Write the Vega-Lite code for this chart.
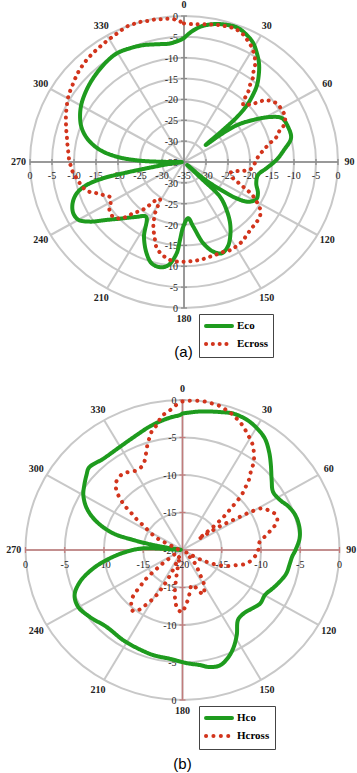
{
"$schema":"https://vega.github.io/schema/vega-lite/v6.json",
"padding":0,"spacing":0,"bounds":"flush","background":"white",
"config":{"view":{"stroke":null},"text":{"font":"Liberation Serif"},
"legend":{"strokeColor":"#444","fillColor":"white","padding":5,"labelFont":"Liberation Serif","labelFontSize":11,"labelFontWeight":"bold","labelColor":"black","symbolType":"M-1,0L4.2,0","symbolSize":100,"symbolStrokeWidth":4,"rowPadding":2,"labelOffset":19,"cornerRadius":0}},
"resolve":{"scale":{"color":"independent","strokeDash":"independent","size":"independent","x":"independent","y":"independent"},"legend":{"color":"independent","strokeDash":"independent"}},
"datasets":{
"sp":[{"a":0},{"a":30},{"a":60},{"a":90},{"a":120},{"a":150},{"a":180},{"a":210},{"a":240},{"a":270},{"a":300},{"a":330}],
"tA":[{"db":-35,"d":"u"},{"db":-30,"d":"u"},{"db":-25,"d":"u"},{"db":-20,"d":"u"},{"db":-15,"d":"u"},{"db":-10,"d":"u"},{"db":-5,"d":"u"},{"db":0,"d":"u"},
{"db":-30,"d":"d"},{"db":-25,"d":"d"},{"db":-20,"d":"d"},{"db":-15,"d":"d"},{"db":-10,"d":"d"},{"db":-5,"d":"d"},{"db":0,"d":"d"},
{"db":-35,"d":"l"},{"db":-30,"d":"l"},{"db":-25,"d":"l"},{"db":-20,"d":"l"},{"db":-15,"d":"l"},{"db":-10,"d":"l"},{"db":-5,"d":"l"},{"db":0,"d":"l"},
{"db":-30,"d":"r"},{"db":-25,"d":"r"},{"db":-20,"d":"r"},{"db":-15,"d":"r"},{"db":-10,"d":"r"},{"db":-5,"d":"r"},{"db":0,"d":"r"}],
"tB":[{"db":-20,"d":"u"},{"db":-15,"d":"u"},{"db":-10,"d":"u"},{"db":-5,"d":"u"},{"db":0,"d":"u"},
{"db":-15,"d":"d"},{"db":-10,"d":"d"},{"db":-5,"d":"d"},{"db":0,"d":"d"},
{"db":-20,"d":"l"},{"db":-15,"d":"l"},{"db":-10,"d":"l"},{"db":-5,"d":"l"},{"db":0,"d":"l"},
{"db":-15,"d":"r"},{"db":-10,"d":"r"},{"db":-5,"d":"r"},{"db":0,"d":"r"}],
"A":[
{"s":"Eco","a":0,"db":-5.3},{"s":"Eco","a":2.5,"db":-4.0},{"s":"Eco","a":6.4,"db":-2.4},{"s":"Eco","a":11.3,"db":-1.3},{"s":"Eco","a":16.6,"db":-0.7},{"s":"Eco","a":20.9,"db":-0.6},{"s":"Eco","a":25.2,"db":-1.4},{"s":"Eco","a":28.8,"db":-2.4},{"s":"Eco","a":32.4,"db":-4.1},{"s":"Eco","a":35.7,"db":-5.8},{"s":"Eco","a":38.6,"db":-7.7},{"s":"Eco","a":42,"db":-10.2},{"s":"Eco","a":44.3,"db":-12.6},{"s":"Eco","a":46.4,"db":-15.2},{"s":"Eco","a":48.2,"db":-18.8},{"s":"Eco","a":49.1,"db":-23.3},{"s":"Eco","a":50.5,"db":-28.6},{"s":"Eco","a":51.7,"db":-24.6},{"s":"Eco","a":53.7,"db":-20.1},{"s":"Eco","a":57.3,"db":-16.4},{"s":"Eco","a":61.1,"db":-12.7},{"s":"Eco","a":64.7,"db":-10.4},{"s":"Eco","a":70.4,"db":-9.9},{"s":"Eco","a":76.7,"db":-10.0},{"s":"Eco","a":82.8,"db":-12.1},{"s":"Eco","a":88.7,"db":-14.0},{"s":"Eco","a":94.6,"db":-16.2},{"s":"Eco","a":100.5,"db":-17.9},{"s":"Eco","a":107.3,"db":-17.8},{"s":"Eco","a":114,"db":-16.6},{"s":"Eco","a":118.5,"db":-16.3},{"s":"Eco","a":123.2,"db":-17.6},{"s":"Eco","a":126.2,"db":-20.3},{"s":"Eco","a":128.4,"db":-24.2},{"s":"Eco","a":131.5,"db":-28.6},{"s":"Eco","a":134,"db":-34},{"s":"Eco","a":135,"db":-29},{"s":"Eco","a":135.5,"db":-23.3},{"s":"Eco","a":139.9,"db":-20.0},{"s":"Eco","a":144.6,"db":-16.9},{"s":"Eco","a":149.7,"db":-14.2},{"s":"Eco","a":153.9,"db":-12.4},{"s":"Eco","a":158.6,"db":-11.5},{"s":"Eco","a":162.8,"db":-12.5},{"s":"Eco","a":167.3,"db":-15.0},{"s":"Eco","a":172.3,"db":-19.4},{"s":"Eco","a":176,"db":-21.5},{"s":"Eco","a":180.6,"db":-19.5},{"s":"Eco","a":182.8,"db":-16.3},{"s":"Eco","a":184.3,"db":-13.1},{"s":"Eco","a":188.2,"db":-10.0},{"s":"Eco","a":192.2,"db":-9.2},{"s":"Eco","a":196.8,"db":-9.6},{"s":"Eco","a":201.2,"db":-11.5},{"s":"Eco","a":206.9,"db":-14.9},{"s":"Eco","a":213.2,"db":-19.3},{"s":"Eco","a":219.3,"db":-18.0},{"s":"Eco","a":225.6,"db":-15.7},{"s":"Eco","a":231.7,"db":-12.6},{"s":"Eco","a":236.2,"db":-9.3},{"s":"Eco","a":240,"db":-7.3},{"s":"Eco","a":244,"db":-7.0},{"s":"Eco","a":248.6,"db":-7.8},{"s":"Eco","a":252.9,"db":-9.5},{"s":"Eco","a":256,"db":-12.2},{"s":"Eco","a":258,"db":-16.2},{"s":"Eco","a":258.9,"db":-20.9},{"s":"Eco","a":259.9,"db":-26.4},{"s":"Eco","a":263,"db":-32.5},{"s":"Eco","a":267,"db":-34.5},{"s":"Eco","a":270.5,"db":-30.5},{"s":"Eco","a":271.8,"db":-25},{"s":"Eco","a":274.7,"db":-19.7},{"s":"Eco","a":278.6,"db":-15.7},{"s":"Eco","a":283.7,"db":-12.6},{"s":"Eco","a":289.2,"db":-10.4},{"s":"Eco","a":294.7,"db":-9.0},{"s":"Eco","a":301.2,"db":-7.8},{"s":"Eco","a":309.7,"db":-6.7},{"s":"Eco","a":317,"db":-5.9},{"s":"Eco","a":323.8,"db":-5.2},{"s":"Eco","a":329.6,"db":-4.8},{"s":"Eco","a":335.7,"db":-5.1},{"s":"Eco","a":341.7,"db":-5.5},{"s":"Eco","a":347.6,"db":-6.1},{"s":"Eco","a":353.6,"db":-6.4},{"s":"Eco","a":359,"db":-5.6},{"s":"Eco","a":360,"db":-5.3},
{"s":"Ecross","a":0,"db":-1.8},{"s":"Ecross","a":3,"db":-1.9},{"s":"Ecross","a":5.6,"db":-1.8},{"s":"Ecross","a":8.9,"db":-1.6},{"s":"Ecross","a":11.4,"db":-1.4},{"s":"Ecross","a":14,"db":-1.2},{"s":"Ecross","a":16.6,"db":-1.1},{"s":"Ecross","a":19.3,"db":-1.0},{"s":"Ecross","a":22.2,"db":-1.3},{"s":"Ecross","a":24.8,"db":-1.9},{"s":"Ecross","a":26.9,"db":-2.7},{"s":"Ecross","a":29.1,"db":-3.4},{"s":"Ecross","a":30.8,"db":-4.2},{"s":"Ecross","a":33,"db":-5.4},{"s":"Ecross","a":34.8,"db":-6.7},{"s":"Ecross","a":36.1,"db":-8.2},{"s":"Ecross","a":37.6,"db":-9.2},{"s":"Ecross","a":39.1,"db":-11.2},{"s":"Ecross","a":40.9,"db":-12.7},{"s":"Ecross","a":42.2,"db":-14.4},{"s":"Ecross","a":44.6,"db":-15.8},{"s":"Ecross","a":47.4,"db":-14.6},{"s":"Ecross","a":49.3,"db":-13.2},{"s":"Ecross","a":50.8,"db":-11.7},{"s":"Ecross","a":53,"db":-10.6},{"s":"Ecross","a":56.3,"db":-9.7},{"s":"Ecross","a":60.7,"db":-9.5},{"s":"Ecross","a":64.7,"db":-9.6},{"s":"Ecross","a":68.7,"db":-10.6},{"s":"Ecross","a":70.6,"db":-11.9},{"s":"Ecross","a":74,"db":-13.1},{"s":"Ecross","a":77.1,"db":-15.0},{"s":"Ecross","a":81,"db":-16.7},{"s":"Ecross","a":85.7,"db":-18.1},{"s":"Ecross","a":91.1,"db":-18.9},{"s":"Ecross","a":96.3,"db":-19.7},{"s":"Ecross","a":98.7,"db":-21.1},{"s":"Ecross","a":100.3,"db":-22.8},{"s":"Ecross","a":103.5,"db":-24.1},{"s":"Ecross","a":108.9,"db":-23.3},{"s":"Ecross","a":111.7,"db":-21.8},{"s":"Ecross","a":114.2,"db":-20.0},{"s":"Ecross","a":116.7,"db":-17.8},{"s":"Ecross","a":119.7,"db":-16.1},{"s":"Ecross","a":122.7,"db":-14.5},{"s":"Ecross","a":126.3,"db":-13.5},{"s":"Ecross","a":130.9,"db":-13.1},{"s":"Ecross","a":135.9,"db":-12.9},{"s":"Ecross","a":140.9,"db":-12.4},{"s":"Ecross","a":145.5,"db":-11.8},{"s":"Ecross","a":150.5,"db":-11.5},{"s":"Ecross","a":153.6,"db":-11.4},{"s":"Ecross","a":158.4,"db":-11.7},{"s":"Ecross","a":162.5,"db":-11.6},{"s":"Ecross","a":166.4,"db":-11.5},{"s":"Ecross","a":170.2,"db":-11.3},{"s":"Ecross","a":174,"db":-11.2},{"s":"Ecross","a":178.5,"db":-11.1},{"s":"Ecross","a":182.2,"db":-11.1},{"s":"Ecross","a":185.8,"db":-11.1},{"s":"Ecross","a":190.1,"db":-11.7},{"s":"Ecross","a":194.1,"db":-12.6},{"s":"Ecross","a":197.6,"db":-13.9},{"s":"Ecross","a":199.6,"db":-15.3},{"s":"Ecross","a":201.8,"db":-16.6},{"s":"Ecross","a":204.2,"db":-18.0},{"s":"Ecross","a":206.2,"db":-19.5},{"s":"Ecross","a":208.2,"db":-21.1},{"s":"Ecross","a":209.5,"db":-23.0},{"s":"Ecross","a":211.7,"db":-24.6},{"s":"Ecross","a":215.4,"db":-23.6},{"s":"Ecross","a":217.6,"db":-21.7},{"s":"Ecross","a":219.9,"db":-19.8},{"s":"Ecross","a":223.2,"db":-18.2},{"s":"Ecross","a":224.8,"db":-16.5},{"s":"Ecross","a":227.4,"db":-15.0},{"s":"Ecross","a":231.4,"db":-14.2},{"s":"Ecross","a":235.8,"db":-14.5},{"s":"Ecross","a":239.3,"db":-15.6},{"s":"Ecross","a":243.3,"db":-16.2},{"s":"Ecross","a":246.7,"db":-15.0},{"s":"Ecross","a":249.5,"db":-13.7},{"s":"Ecross","a":251.7,"db":-12.3},{"s":"Ecross","a":255.6,"db":-11.1},{"s":"Ecross","a":259.9,"db":-10.5},{"s":"Ecross","a":263.9,"db":-9.7},{"s":"Ecross","a":267.5,"db":-9.3},{"s":"Ecross","a":271.1,"db":-8.9},{"s":"Ecross","a":276.2,"db":-8.5},{"s":"Ecross","a":280.4,"db":-8.0},{"s":"Ecross","a":283.6,"db":-7.6},{"s":"Ecross","a":286.8,"db":-7.0},{"s":"Ecross","a":289.8,"db":-6.5},{"s":"Ecross","a":293.2,"db":-5.8},{"s":"Ecross","a":296.2,"db":-5.3},{"s":"Ecross","a":299,"db":-4.7},{"s":"Ecross","a":302,"db":-4.2},{"s":"Ecross","a":305.1,"db":-3.8},{"s":"Ecross","a":308.3,"db":-3.3},{"s":"Ecross","a":311.4,"db":-2.8},{"s":"Ecross","a":314.5,"db":-2.4},{"s":"Ecross","a":317.9,"db":-2.0},{"s":"Ecross","a":321.5,"db":-1.7},{"s":"Ecross","a":325.4,"db":-1.4},{"s":"Ecross","a":328.8,"db":-1.1},{"s":"Ecross","a":332.3,"db":-0.8},{"s":"Ecross","a":335.4,"db":-0.4},{"s":"Ecross","a":338.6,"db":0},{"s":"Ecross","a":341.5,"db":0},{"s":"Ecross","a":344,"db":0},{"s":"Ecross","a":346.5,"db":-0.2},{"s":"Ecross","a":349.1,"db":-0.2},{"s":"Ecross","a":351.6,"db":-0.4},{"s":"Ecross","a":354.1,"db":-0.5},{"s":"Ecross","a":357.2,"db":-0.9},{"s":"Ecross","a":360,"db":-1.8}],
"B":[
{"s":"Hco","a":0,"db":-1.8},{"s":"Hco","a":6.9,"db":-1.4},{"s":"Hco","a":14.5,"db":-1.0},{"s":"Hco","a":19.6,"db":-0.7},{"s":"Hco","a":25.3,"db":-0.8},{"s":"Hco","a":30.3,"db":-1.2},{"s":"Hco","a":35.2,"db":-1.8},{"s":"Hco","a":40.2,"db":-2.9},{"s":"Hco","a":44.7,"db":-4.0},{"s":"Hco","a":50.6,"db":-5.3},{"s":"Hco","a":56.1,"db":-6.1},{"s":"Hco","a":61.8,"db":-5.9},{"s":"Hco","a":66.8,"db":-5.3},{"s":"Hco","a":72,"db":-4.9},{"s":"Hco","a":78.2,"db":-4.8},{"s":"Hco","a":84,"db":-5.0},{"s":"Hco","a":90,"db":-5.6},{"s":"Hco","a":93.6,"db":-6.0},{"s":"Hco","a":97.4,"db":-6.2},{"s":"Hco","a":103.2,"db":-6.4},{"s":"Hco","a":108.8,"db":-6.9},{"s":"Hco","a":113.8,"db":-7.4},{"s":"Hco","a":119.7,"db":-7.9},{"s":"Hco","a":125.7,"db":-7.8},{"s":"Hco","a":131.4,"db":-8.2},{"s":"Hco","a":137.5,"db":-8.5},{"s":"Hco","a":142.8,"db":-8.3},{"s":"Hco","a":148.7,"db":-6.7},{"s":"Hco","a":153.7,"db":-5.4},{"s":"Hco","a":158.1,"db":-4.5},{"s":"Hco","a":162.7,"db":-3.9},{"s":"Hco","a":167.4,"db":-4.0},{"s":"Hco","a":171.8,"db":-4.5},{"s":"Hco","a":177.9,"db":-4.9},{"s":"Hco","a":186.3,"db":-5.4},{"s":"Hco","a":194.9,"db":-5.5},{"s":"Hco","a":204,"db":-5.7},{"s":"Hco","a":212.1,"db":-5.8},{"s":"Hco","a":223.4,"db":-5.9},{"s":"Hco","a":232.9,"db":-5.2},{"s":"Hco","a":240.3,"db":-4.7},{"s":"Hco","a":246.4,"db":-5.0},{"s":"Hco","a":252.1,"db":-6.3},{"s":"Hco","a":257.9,"db":-8.4},{"s":"Hco","a":263.2,"db":-10.7},{"s":"Hco","a":268.2,"db":-12.9},{"s":"Hco","a":272.5,"db":-15.0},{"s":"Hco","a":276.5,"db":-19.8},{"s":"Hco","a":279,"db":-18},{"s":"Hco","a":280.4,"db":-15.8},{"s":"Hco","a":282,"db":-13.6},{"s":"Hco","a":284.1,"db":-10.9},{"s":"Hco","a":289.1,"db":-8.4},{"s":"Hco","a":294.5,"db":-6.6},{"s":"Hco","a":300.1,"db":-5.4},{"s":"Hco","a":304.6,"db":-4.8},{"s":"Hco","a":309.3,"db":-4.2},{"s":"Hco","a":312.7,"db":-3.8},{"s":"Hco","a":320.5,"db":-4.2},{"s":"Hco","a":330,"db":-4.1},{"s":"Hco","a":339.2,"db":-3.6},{"s":"Hco","a":345.9,"db":-3.0},{"s":"Hco","a":352,"db":-2.5},{"s":"Hco","a":356.2,"db":-2.2},{"s":"Hco","a":359,"db":-2.0},{"s":"Hco","a":360,"db":-1.8},
{"s":"Hcross","a":0,"db":-0.2},{"s":"Hcross","a":2.1,"db":-0.1},{"s":"Hcross","a":5.2,"db":0},{"s":"Hcross","a":8,"db":0},{"s":"Hcross","a":10.8,"db":-0.1},{"s":"Hcross","a":13.7,"db":-0.2},{"s":"Hcross","a":16.5,"db":-0.5},{"s":"Hcross","a":19.1,"db":-0.8},{"s":"Hcross","a":22.3,"db":-1.3},{"s":"Hcross","a":25.2,"db":-1.8},{"s":"Hcross","a":28.3,"db":-2.5},{"s":"Hcross","a":31.4,"db":-3.1},{"s":"Hcross","a":33.6,"db":-3.7},{"s":"Hcross","a":36.3,"db":-4.6},{"s":"Hcross","a":38,"db":-5.3},{"s":"Hcross","a":39.2,"db":-6.1},{"s":"Hcross","a":40.7,"db":-6.8},{"s":"Hcross","a":42.6,"db":-7.6},{"s":"Hcross","a":44.1,"db":-8.6},{"s":"Hcross","a":45.8,"db":-9.5},{"s":"Hcross","a":47.3,"db":-11.0},{"s":"Hcross","a":48.4,"db":-12.0},{"s":"Hcross","a":49.9,"db":-13.2},{"s":"Hcross","a":51.5,"db":-14.8},{"s":"Hcross","a":53,"db":-16.5},{"s":"Hcross","a":54.5,"db":-17.5},{"s":"Hcross","a":55.5,"db":-16.0},{"s":"Hcross","a":56.5,"db":-14.2},{"s":"Hcross","a":57.7,"db":-13.0},{"s":"Hcross","a":58.8,"db":-11.4},{"s":"Hcross","a":59.6,"db":-10.1},{"s":"Hcross","a":61.1,"db":-8.5},{"s":"Hcross","a":65,"db":-7.7},{"s":"Hcross","a":68.7,"db":-7.2},{"s":"Hcross","a":72.9,"db":-7.4},{"s":"Hcross","a":76.2,"db":-8.3},{"s":"Hcross","a":79.4,"db":-9.1},{"s":"Hcross","a":83.6,"db":-10.1},{"s":"Hcross","a":88.7,"db":-10.3},{"s":"Hcross","a":92.7,"db":-10.5},{"s":"Hcross","a":99.5,"db":-11.2},{"s":"Hcross","a":103.6,"db":-11.9},{"s":"Hcross","a":106.2,"db":-12.8},{"s":"Hcross","a":109.5,"db":-13.6},{"s":"Hcross","a":112,"db":-14.4},{"s":"Hcross","a":114.7,"db":-15.4},{"s":"Hcross","a":116.6,"db":-16.3},{"s":"Hcross","a":118.8,"db":-17.2},{"s":"Hcross","a":121,"db":-18.7},{"s":"Hcross","a":128,"db":-19.5},{"s":"Hcross","a":136.6,"db":-18.0},{"s":"Hcross","a":141,"db":-17.1},{"s":"Hcross","a":145.6,"db":-16.1},{"s":"Hcross","a":148,"db":-15.0},{"s":"Hcross","a":151.4,"db":-14.2},{"s":"Hcross","a":155.9,"db":-13.5},{"s":"Hcross","a":160.6,"db":-14.6},{"s":"Hcross","a":165.8,"db":-15.2},{"s":"Hcross","a":170.2,"db":-14.4},{"s":"Hcross","a":173.4,"db":-13.5},{"s":"Hcross","a":177.6,"db":-12.4},{"s":"Hcross","a":180,"db":-11.7},{"s":"Hcross","a":184.5,"db":-12.1},{"s":"Hcross","a":186.9,"db":-12.8},{"s":"Hcross","a":188.8,"db":-13.7},{"s":"Hcross","a":190.6,"db":-14.8},{"s":"Hcross","a":191.7,"db":-15.9},{"s":"Hcross","a":193.4,"db":-17.0},{"s":"Hcross","a":198,"db":-18.6},{"s":"Hcross","a":203,"db":-19.2},{"s":"Hcross","a":204.5,"db":-17.0},{"s":"Hcross","a":206,"db":-15.3},{"s":"Hcross","a":207.4,"db":-14.3},{"s":"Hcross","a":208.7,"db":-13.2},{"s":"Hcross","a":211,"db":-12.0},{"s":"Hcross","a":213.5,"db":-10.9},{"s":"Hcross","a":215.6,"db":-10.0},{"s":"Hcross","a":218,"db":-9.7},{"s":"Hcross","a":220.6,"db":-10.0},{"s":"Hcross","a":224.2,"db":-10.7},{"s":"Hcross","a":226.4,"db":-11.6},{"s":"Hcross","a":227.9,"db":-12.7},{"s":"Hcross","a":230.1,"db":-13.8},{"s":"Hcross","a":231.7,"db":-15.0},{"s":"Hcross","a":233,"db":-16.1},{"s":"Hcross","a":235,"db":-17.1},{"s":"Hcross","a":240,"db":-18.8},{"s":"Hcross","a":255,"db":-19.4},{"s":"Hcross","a":270,"db":-19.5},{"s":"Hcross","a":285,"db":-19.2},{"s":"Hcross","a":290,"db":-18.8},{"s":"Hcross","a":292.4,"db":-18.3},{"s":"Hcross","a":294.3,"db":-17.3},{"s":"Hcross","a":295.8,"db":-16.4},{"s":"Hcross","a":299.5,"db":-15.3},{"s":"Hcross","a":303.1,"db":-14.1},{"s":"Hcross","a":304.8,"db":-13.0},{"s":"Hcross","a":307.3,"db":-11.7},{"s":"Hcross","a":308.7,"db":-10.6},{"s":"Hcross","a":310.6,"db":-9.6},{"s":"Hcross","a":312.6,"db":-8.7},{"s":"Hcross","a":315.3,"db":-7.9},{"s":"Hcross","a":318.1,"db":-7.5},{"s":"Hcross","a":323.1,"db":-7.3},{"s":"Hcross","a":327.4,"db":-7.6},{"s":"Hcross","a":331.6,"db":-7.9},{"s":"Hcross","a":335.9,"db":-7.6},{"s":"Hcross","a":338.5,"db":-7.0},{"s":"Hcross","a":340.4,"db":-6.2},{"s":"Hcross","a":342.3,"db":-5.3},{"s":"Hcross","a":344.2,"db":-4.5},{"s":"Hcross","a":346.1,"db":-3.7},{"s":"Hcross","a":348.9,"db":-3.0},{"s":"Hcross","a":351.5,"db":-2.0},{"s":"Hcross","a":355.1,"db":-1.3},{"s":"Hcross","a":357.8,"db":-0.6},{"s":"Hcross","a":360,"db":-0.2}]
},
"vconcat":[
{"width":357,"height":385,
"title":{"text":"(a)","orient":"bottom","offset":-40,"font":"Liberation Sans","fontSize":15,"fontWeight":"normal","color":"black","anchor":"middle","dx":5},
"layer":[
{"data":{"name":"tA"},"transform":[{"filter":"datum.d=='u' && datum.db > -35"},{"calculate":"(datum.db+35)/35","as":"r"},{"calculate":"0","as":"o"}],
"mark":{"type":"point","shape":"M1,0C1,0.5236,0.5523,0.948,0,0.948C-0.5523,0.948,-1,0.5236,-1,0C-1,-0.5236,-0.5523,-0.948,0,-0.948C0.5523,-0.948,1,-0.5236,1,0Z","filled":false,"stroke":"#c8c8c8","strokeWidth":2,"opacity":1},
"encoding":{"x":{"field":"o","type":"quantitative","scale":{"domain":[-1.1948,1.1234],"nice":false,"zero":false},"axis":null},"y":{"field":"o","type":"quantitative","scale":{"domain":[-1.5274,1.1096],"nice":false,"zero":false},"axis":null},"size":{"field":"r","type":"quantitative","scale":{"type":"pow","exponent":2,"domain":[0,1],"range":[0,94864]},"legend":null}}},
{"data":{"name":"sp"},"transform":[{"calculate":"sin(datum.a*PI/180)","as":"sx"},{"calculate":"cos(datum.a*PI/180)","as":"sy"},{"calculate":"0","as":"o"}],
"mark":{"type":"rule","stroke":"#c8c8c8","strokeWidth":2},
"encoding":{"x":{"field":"o","type":"quantitative","scale":{"domain":[-1.1948,1.1234],"nice":false,"zero":false},"axis":null},"y":{"field":"o","type":"quantitative","scale":{"domain":[-1.5274,1.1096],"nice":false,"zero":false},"axis":null},"x2":{"field":"sx"},"y2":{"field":"sy"}}},
{"data":{"name":"sp"},"transform":[{"filter":"datum.a==0 || datum.a==90"},{"calculate":"sin(datum.a*PI/180)","as":"sx"},{"calculate":"cos(datum.a*PI/180)","as":"sy"},{"calculate":"-datum.sx","as":"nx"},{"calculate":"-datum.sy","as":"ny"}],
"mark":{"type":"rule","stroke":"#8a8a8a","strokeWidth":1.5},
"encoding":{"x":{"field":"nx","type":"quantitative","scale":{"domain":[-1.1948,1.1234],"nice":false,"zero":false},"axis":null},"y":{"field":"ny","type":"quantitative","scale":{"domain":[-1.5274,1.1096],"nice":false,"zero":false},"axis":null},"x2":{"field":"sx"},"y2":{"field":"sy"}}},
{"data":{"name":"tA"},"transform":[{"filter":"datum.d=='u' || datum.d=='d'"},{"calculate":"(datum.db+35)/35","as":"r"},{"calculate":"datum.d=='u' ? datum.r : -datum.r","as":"y"},{"calculate":"0","as":"o"}],
"mark":{"type":"point","shape":"stroke","size":36,"stroke":"#8a8a8a","strokeWidth":1.2,"opacity":1},
"encoding":{"x":{"field":"o","type":"quantitative","scale":{"domain":[-1.1948,1.1234],"nice":false,"zero":false},"axis":null},"y":{"field":"y","type":"quantitative","scale":{"domain":[-1.5274,1.1096],"nice":false,"zero":false},"axis":null}}},
{"data":{"name":"tA"},"transform":[{"filter":"datum.d=='l' || datum.d=='r'"},{"calculate":"(datum.db+35)/35","as":"r"},{"calculate":"datum.d=='r' ? datum.r : -datum.r","as":"x"},{"calculate":"0","as":"o"}],
"mark":{"type":"point","shape":"stroke","angle":90,"size":36,"stroke":"#8a8a8a","strokeWidth":1.2,"opacity":1},
"encoding":{"x":{"field":"x","type":"quantitative","scale":{"domain":[-1.1948,1.1234],"nice":false,"zero":false},"axis":null},"y":{"field":"o","type":"quantitative","scale":{"domain":[-1.5274,1.1096],"nice":false,"zero":false},"axis":null}}},
{"data":{"name":"tA"},"transform":[{"filter":"datum.d=='u' || datum.d=='d'"},{"calculate":"(datum.db+35)/35","as":"r"},{"calculate":"datum.d=='u' ? datum.r : -datum.r","as":"y"},{"calculate":"0","as":"o"}],
"mark":{"type":"text","align":"right","baseline":"middle","dx":-6,"dy":1,"fontSize":10,"fill":"#222"},
"encoding":{"x":{"field":"o","type":"quantitative","scale":{"domain":[-1.1948,1.1234],"nice":false,"zero":false},"axis":null},"y":{"field":"y","type":"quantitative","scale":{"domain":[-1.5274,1.1096],"nice":false,"zero":false},"axis":null},"text":{"field":"db","type":"nominal"}}},
{"data":{"name":"tA"},"transform":[{"filter":"datum.d=='l' || datum.d=='r'"},{"calculate":"(datum.db+35)/35","as":"r"},{"calculate":"datum.d=='r' ? datum.r : -datum.r","as":"x"},{"calculate":"0","as":"o"}],
"mark":{"type":"text","align":"center","baseline":"middle","dy":14,"fontSize":10,"fill":"#222"},
"encoding":{"x":{"field":"x","type":"quantitative","scale":{"domain":[-1.1948,1.1234],"nice":false,"zero":false},"axis":null},"y":{"field":"o","type":"quantitative","scale":{"domain":[-1.5274,1.1096],"nice":false,"zero":false},"axis":null},"text":{"field":"db","type":"nominal"}}},
{"data":{"name":"sp"},"transform":[{"calculate":"1.075*sin(datum.a*PI/180)","as":"lx"},{"calculate":"1.075*cos(datum.a*PI/180)","as":"ly"}],
"mark":{"type":"text","align":"center","baseline":"middle","fontSize":10,"fontWeight":"bold","fill":"#222"},
"encoding":{"x":{"field":"lx","type":"quantitative","scale":{"domain":[-1.1948,1.1234],"nice":false,"zero":false},"axis":null},"y":{"field":"ly","type":"quantitative","scale":{"domain":[-1.5274,1.1096],"nice":false,"zero":false},"axis":null},"text":{"field":"a","type":"nominal"}}},
{"data":{"name":"A"},"transform":[{"calculate":"(datum.db+35)/35","as":"r"},{"calculate":"datum.r*sin(datum.a*PI/180)","as":"x"},{"calculate":"datum.r*cos(datum.a*PI/180)","as":"y"}],
"mark":{"type":"line","strokeWidth":4,"strokeCap":"round","strokeJoin":"round","interpolate":"catmull-rom"},
"encoding":{"x":{"field":"x","type":"quantitative","scale":{"domain":[-1.1948,1.1234],"nice":false,"zero":false},"axis":null},"y":{"field":"y","type":"quantitative","scale":{"domain":[-1.5274,1.1096],"nice":false,"zero":false},"axis":null},"order":{"field":"a","type":"quantitative"},
"color":{"field":"s","type":"nominal","scale":{"domain":["Eco","Ecross"],"range":["#1e9b1e","#d2341c"]},"legend":{"title":null,"orient":"none","legendX":199,"legendY":314,"direction":"vertical","encode":{"symbols":{"update":{"strokeCap":{"value":"round"}}}}}},
"strokeDash":{"field":"s","type":"nominal","scale":{"domain":["Eco","Ecross"],"range":[[1,0],[0.1,6.7]]},"legend":{"title":null,"orient":"none","legendX":199,"legendY":314,"direction":"vertical","encode":{"symbols":{"update":{"strokeCap":{"value":"round"}}}}}}}}
]},
{"width":357,"height":388,
"title":{"text":"(b)","orient":"bottom","offset":-16,"font":"Liberation Sans","fontSize":15,"fontWeight":"normal","color":"black","anchor":"middle","dx":4},
"layer":[
{"data":{"name":"tB"},"transform":[{"filter":"datum.d=='u' && datum.db > -20"},{"calculate":"(datum.db+20)/20","as":"r"},{"calculate":"0","as":"o"}],
"mark":{"type":"point","shape":"M1,0C1,0.5274,0.5523,0.955,0,0.955C-0.5523,0.955,-1,0.5274,-1,0C-1,-0.5274,-0.5523,-0.955,0,-0.955C0.5523,-0.955,1,-0.5274,1,0Z","filled":false,"stroke":"#c8c8c8","strokeWidth":2,"opacity":1},
"encoding":{"x":{"field":"o","type":"quantitative","scale":{"domain":[-1.1624,1.1115],"nice":false,"zero":false},"axis":null},"y":{"field":"o","type":"quantitative","scale":{"domain":[-1.4867,1.1],"nice":false,"zero":false},"axis":null},"size":{"field":"r","type":"quantitative","scale":{"type":"pow","exponent":2,"domain":[0,1],"range":[0,98596]},"legend":null}}},
{"data":{"name":"sp"},"transform":[{"calculate":"sin(datum.a*PI/180)","as":"sx"},{"calculate":"cos(datum.a*PI/180)","as":"sy"},{"calculate":"0","as":"o"}],
"mark":{"type":"rule","stroke":"#c8c8c8","strokeWidth":2},
"encoding":{"x":{"field":"o","type":"quantitative","scale":{"domain":[-1.1624,1.1115],"nice":false,"zero":false},"axis":null},"y":{"field":"o","type":"quantitative","scale":{"domain":[-1.4867,1.1],"nice":false,"zero":false},"axis":null},"x2":{"field":"sx"},"y2":{"field":"sy"}}},
{"data":{"name":"sp"},"transform":[{"filter":"datum.a==0 || datum.a==90"},{"calculate":"sin(datum.a*PI/180)","as":"sx"},{"calculate":"cos(datum.a*PI/180)","as":"sy"},{"calculate":"-datum.sx","as":"nx"},{"calculate":"-datum.sy","as":"ny"}],
"mark":{"type":"rule","stroke":"#c27c7c","strokeWidth":1.5},
"encoding":{"x":{"field":"nx","type":"quantitative","scale":{"domain":[-1.1624,1.1115],"nice":false,"zero":false},"axis":null},"y":{"field":"ny","type":"quantitative","scale":{"domain":[-1.4867,1.1],"nice":false,"zero":false},"axis":null},"x2":{"field":"sx"},"y2":{"field":"sy"}}},
{"data":{"name":"tB"},"transform":[{"filter":"datum.d=='u' || datum.d=='d'"},{"calculate":"(datum.db+20)/20","as":"r"},{"calculate":"datum.d=='u' ? datum.r : -datum.r","as":"y"},{"calculate":"0","as":"o"}],
"mark":{"type":"point","shape":"stroke","size":36,"stroke":"#c27c7c","strokeWidth":1.2,"opacity":1},
"encoding":{"x":{"field":"o","type":"quantitative","scale":{"domain":[-1.1624,1.1115],"nice":false,"zero":false},"axis":null},"y":{"field":"y","type":"quantitative","scale":{"domain":[-1.4867,1.1],"nice":false,"zero":false},"axis":null}}},
{"data":{"name":"tB"},"transform":[{"filter":"datum.d=='l' || datum.d=='r'"},{"calculate":"(datum.db+20)/20","as":"r"},{"calculate":"datum.d=='r' ? datum.r : -datum.r","as":"x"},{"calculate":"0","as":"o"}],
"mark":{"type":"point","shape":"stroke","angle":90,"size":36,"stroke":"#c27c7c","strokeWidth":1.2,"opacity":1},
"encoding":{"x":{"field":"x","type":"quantitative","scale":{"domain":[-1.1624,1.1115],"nice":false,"zero":false},"axis":null},"y":{"field":"o","type":"quantitative","scale":{"domain":[-1.4867,1.1],"nice":false,"zero":false},"axis":null}}},
{"data":{"name":"tB"},"transform":[{"filter":"datum.d=='u' || datum.d=='d'"},{"calculate":"(datum.db+20)/20","as":"r"},{"calculate":"datum.d=='u' ? datum.r : -datum.r","as":"y"},{"calculate":"0","as":"o"}],
"mark":{"type":"text","align":"right","baseline":"middle","dx":-6,"dy":1,"fontSize":10,"fill":"#222"},
"encoding":{"x":{"field":"o","type":"quantitative","scale":{"domain":[-1.1624,1.1115],"nice":false,"zero":false},"axis":null},"y":{"field":"y","type":"quantitative","scale":{"domain":[-1.4867,1.1],"nice":false,"zero":false},"axis":null},"text":{"field":"db","type":"nominal"}}},
{"data":{"name":"tB"},"transform":[{"filter":"datum.d=='l' || datum.d=='r'"},{"calculate":"(datum.db+20)/20","as":"r"},{"calculate":"datum.d=='r' ? datum.r : -datum.r","as":"x"},{"calculate":"0","as":"o"}],
"mark":{"type":"text","align":"center","baseline":"middle","dy":15,"fontSize":10,"fill":"#222"},
"encoding":{"x":{"field":"x","type":"quantitative","scale":{"domain":[-1.1624,1.1115],"nice":false,"zero":false},"axis":null},"y":{"field":"o","type":"quantitative","scale":{"domain":[-1.4867,1.1],"nice":false,"zero":false},"axis":null},"text":{"field":"db","type":"nominal"}}},
{"data":{"name":"sp"},"transform":[{"calculate":"1.075*sin(datum.a*PI/180)","as":"lx"},{"calculate":"1.075*cos(datum.a*PI/180)","as":"ly"}],
"mark":{"type":"text","align":"center","baseline":"middle","fontSize":10,"fontWeight":"bold","fill":"#222"},
"encoding":{"x":{"field":"lx","type":"quantitative","scale":{"domain":[-1.1624,1.1115],"nice":false,"zero":false},"axis":null},"y":{"field":"ly","type":"quantitative","scale":{"domain":[-1.4867,1.1],"nice":false,"zero":false},"axis":null},"text":{"field":"a","type":"nominal"}}},
{"data":{"name":"B"},"transform":[{"calculate":"(datum.db+20)/20","as":"r"},{"calculate":"datum.r*sin(datum.a*PI/180)","as":"x"},{"calculate":"datum.r*cos(datum.a*PI/180)","as":"y"}],
"mark":{"type":"line","strokeWidth":4,"strokeCap":"round","strokeJoin":"round","interpolate":"catmull-rom"},
"encoding":{"x":{"field":"x","type":"quantitative","scale":{"domain":[-1.1624,1.1115],"nice":false,"zero":false},"axis":null},"y":{"field":"y","type":"quantitative","scale":{"domain":[-1.4867,1.1],"nice":false,"zero":false},"axis":null},"order":{"field":"a","type":"quantitative"},
"color":{"field":"s","type":"nominal","scale":{"domain":["Hco","Hcross"],"range":["#1e9b1e","#d2341c"]},"legend":{"title":null,"orient":"none","legendX":199,"legendY":321,"direction":"vertical","encode":{"symbols":{"update":{"strokeCap":{"value":"round"}}}}}},
"strokeDash":{"field":"s","type":"nominal","scale":{"domain":["Hco","Hcross"],"range":[[1,0],[0.1,7.3]]},"legend":{"title":null,"orient":"none","legendX":199,"legendY":321,"direction":"vertical","encode":{"symbols":{"update":{"strokeCap":{"value":"round"}}}}}}}}
]}
]}
